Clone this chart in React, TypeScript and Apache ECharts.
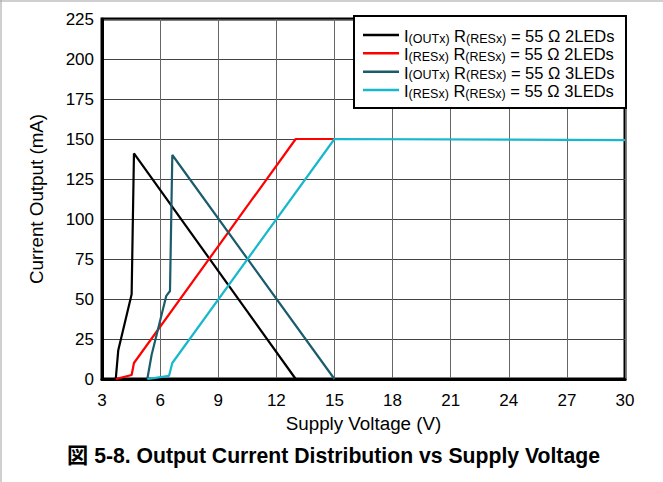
import React, { useEffect, useRef } from "react";
import * as echarts from "echarts";

const FONT = "'Liberation Sans', Arial, 'Noto Sans CJK JP', sans-serif";

const xTicks = { min: 3, max: 30, interval: 3 };
const yTicks = { min: 0, max: 225, interval: 25 };

const seriesNames = [
  "I(OUTx) R(RESx) = 55 Ω 2LEDs",
  "I(RESx) R(RESx) = 55 Ω 2LEDs",
  "I(OUTx) R(RESx) = 55 Ω 3LEDs",
  "I(RESx) R(RESx) = 55 Ω 3LEDs",
];
const legendRich = [
  "{m|I}{s|(OUTx)}{m| R}{s|(RESx)}{m| = 55 Ω 2LEDs}",
  "{m|I}{s|(RESx)}{m| R}{s|(RESx)}{m| = 55 Ω 2LEDs}",
  "{m|I}{s|(OUTx)}{m| R}{s|(RESx)}{m| = 55 Ω 3LEDs}",
  "{m|I}{s|(RESx)}{m| R}{s|(RESx)}{m| = 55 Ω 3LEDs}",
];
const colors = ["#000000", "#ff0000", "#1b5c6c", "#17b8cb"];

const out2Led: [number, number][] = [
  [3.71, 0], [3.84, 18], [4.53, 53], [4.65, 141], [13, 0],
];
const res2Led: [number, number][] = [
  [3.71, 0], [4.53, 2.5], [4.65, 10], [13, 150], [15, 150],
];
const out3Led: [number, number][] = [
  [5.34, 0], [5.56, 15], [6.32, 52], [6.51, 55], [6.63, 140], [15, 0],
];
const res3Led: [number, number][] = [
  [5.34, 0], [6.46, 2], [6.63, 10], [15, 150], [30, 149.3],
];
const seriesData = [out2Led, res2Led, out3Led, res3Led];

const xName = "Supply Voltage (V)";
const yName = "Current Output (mA)";
const caption = "図 5-8. Output Current Distribution vs Supply Voltage";

export default function App() {
  const ref = useRef<HTMLDivElement>(null);
  useEffect(() => {
    if (!ref.current) return;
    const chart = echarts.init(ref.current, undefined, { renderer: "svg" });
    const legendX = 354;
    const legendY = 16;
    const rowY = [35, 53.3, 71.7, 90];
    const graphic: any[] = [
      { type: "line", shape: { x1: 0, y1: 1, x2: 663, y2: 1 }, style: { stroke: "#a0a0a0", lineWidth: 1 }, z: 100 },
      { type: "line", shape: { x1: 1, y1: 0, x2: 1, y2: 482 }, style: { stroke: "#a0a0a0", lineWidth: 1 }, z: 100 },
      {
        type: "rect",
        shape: { x: legendX, y: legendY, width: 272, height: 92 },
        style: { fill: "#ffffff", stroke: "#000000", lineWidth: 2 },
        z: 100,
      },
      {
        type: "text",
        x: 333.5,
        y: 455,
        style: {
          text: caption,
          fontFamily: FONT,
          fontSize: 21.2,
          fontWeight: "bold",
          fill: "#000",
          align: "center",
          verticalAlign: "middle",
        },
        z: 100,
      },
    ];
    rowY.forEach((y, i) => {
      graphic.push({
        type: "line",
        shape: { x1: 363, y1: y, x2: 399, y2: y },
        style: { stroke: colors[i], lineWidth: 2.5 },
        z: 101,
      });
      graphic.push({
        type: "text",
        x: 404,
        y: y + 1,
        style: {
          text: legendRich[i],
          fontFamily: FONT,
          fill: "#000",
          align: "left",
          verticalAlign: "middle",
          rich: {
            m: { fontFamily: FONT, fontSize: 16.5, lineHeight: 18, fill: "#000", verticalAlign: "middle" },
            s: { fontFamily: FONT, fontSize: 12.5, lineHeight: 12, fill: "#000", verticalAlign: "bottom" },
          },
        },
        z: 101,
      });
    });

    chart.setOption({
      animation: false,
      textStyle: { fontFamily: FONT },
      grid: {
        left: 102,
        right: 38,
        top: 19,
        bottom: 103,
        show: true,
        borderColor: "#000",
        borderWidth: 3,
        backgroundColor: "transparent",
      },
      xAxis: {
        type: "value",
        min: xTicks.min,
        max: xTicks.max,
        interval: xTicks.interval,
        name: xName,
        nameLocation: "middle",
        nameGap: 34,
        nameTextStyle: { fontFamily: FONT, fontSize: 18.8, color: "#000" },
        axisLine: { show: true, lineStyle: { color: "#000", width: 3 } },
        axisTick: { show: false },
        axisLabel: { fontFamily: FONT, fontSize: 17, color: "#000", margin: 13 },
        splitLine: { show: true, lineStyle: { color: "#666", width: 1 } },
      },
      yAxis: {
        type: "value",
        min: yTicks.min,
        max: yTicks.max,
        interval: yTicks.interval,
        name: yName,
        nameLocation: "middle",
        nameGap: 56,
        nameTextStyle: { fontFamily: FONT, fontSize: 18.8, color: "#000" },
        axisLine: { show: true, lineStyle: { color: "#000", width: 3 } },
        axisTick: { show: false },
        axisLabel: { fontFamily: FONT, fontSize: 17, color: "#000", margin: 8 },
        splitLine: { show: true, lineStyle: { color: "#444", width: 1 } },
      },
      series: seriesData.map((d, i) => ({
        name: seriesNames[i],
        type: "line",
        data: d,
        showSymbol: false,
        symbol: "none",
        lineStyle: { color: colors[i], width: 2.2 },
        itemStyle: { color: colors[i] },
        z: 3 + i,
      })),
      graphic,
    });
    return () => chart.dispose();
  }, []);
  return (
    <div
      ref={ref}
      style={{ position: "absolute", left: 0, top: 0, width: 663, height: 482, background: "#fff" }}
    />
  );
}
